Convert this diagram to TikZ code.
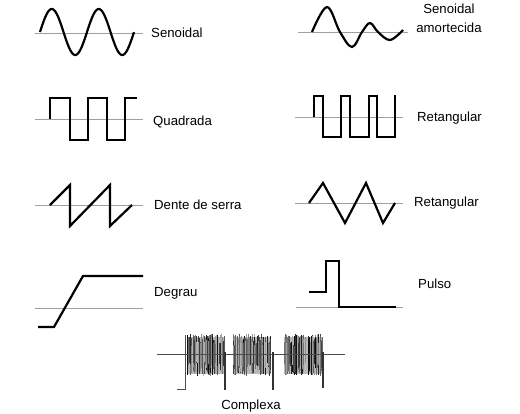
\documentclass[tikz,border=0pt]{standalone}
\usepackage{fontspec}
\setmainfont{Liberation Sans}
\begin{document}
\begin{tikzpicture}[x=1pt,y=-1pt,
  wave/.style={line width=2.2pt, line join=miter, black},
  axisline/.style={gray!75, line width=0.8pt},
  lbl/.style={font=\fontsize{13.2pt}{19pt}\selectfont, inner sep=0pt, anchor=west},
  burstline/.style={line width=0.6pt}]
\useasboundingbox[fill=white] (0,0) rectangle (520,413);

% Senoidal
\draw[axisline] (35,33) -- (143,33);
\draw[wave] plot[domain=0:2, samples=90] ({40+\x*47}, {32-23*sin(\x*360)});
\node[lbl] (senoidal) at (151,33) {Senoidal};

% Senoidal amortecida
\draw[axisline] (298,32) -- (408,32);
\draw[wave] plot[smooth, tension=0.6] coordinates {(312,32) (327,7) (340,32) (352,47) (362,32) (370,23) (378,32) (390,40) (403,30)};
\node[lbl, anchor=center, align=center] (amort) at (449,18) {Senoidal\\amortecida};

% Quadrada
\draw[axisline] (35,119) -- (143,119);
\draw[wave] (50,119) -- (50,98) -- (70,98) -- (70,140) -- (88,140) -- (88,98) -- (107,98) -- (107,140) -- (125,140) -- (125,98) -- (137,98);
\node[lbl] (quadrada) at (153,122) {Quadrada};

% Retangular
\draw[axisline] (295,117) -- (403,117);
\draw[wave] (314,117) -- (314,96) -- (323,96) -- (323,137) -- (341,137) -- (341,96) -- (350,96) -- (350,137) -- (369,137) -- (369,96) -- (377,96) -- (377,137) -- (395,137) -- (395,95);
\node[lbl] (retang1) at (417,118) {Retangular};

% Dente de serra
\draw[axisline] (35,205) -- (143,205);
\draw[wave] (50,205) -- (70,185) -- (70,226) -- (110,185) -- (110,226) -- (132,205);
\node[lbl] (dente) at (154,205) {Dente de serra};

% Triangular (labelled Retangular)
\draw[axisline] (295,203) -- (403,203);
\draw[wave] (309,203) -- (323,183) -- (345,223) -- (366,183) -- (383,223) -- (395,203);
\node[lbl] (retang2) at (414,203) {Retangular};

% Degrau
\draw[axisline] (35,308) -- (143,308);
\draw[wave] (38,327) -- (54,327) -- (83,276) -- (143,276);
\node[lbl] (degrau) at (154,293) {Degrau};

% Pulso
\draw[axisline] (296,307) -- (403,307);
\draw[wave] (309,292) -- (326,292) -- (326,261) -- (339,261) -- (339,307) -- (396,307);
\node[lbl] (pulso) at (418,284) {Pulso};

% Complexa
\pgfmathsetseed{11}
\foreach \bx in {187,233,284}{
  \fill[gray!55] (\bx,337) rectangle (\bx+38,374);
  \foreach \i in {0,...,110}{
    \pgfmathsetmacro\xx{\bx+38*rnd}
    \pgfmathsetmacro\ya{334+12*rnd}
    \pgfmathsetmacro\yb{362+14*rnd}
    \pgfmathsetmacro\g{30+65*rnd}
    \draw[burstline, black!\g] (\xx,\ya) -- (\xx,\yb);
  }
}
\draw[axisline, gray!60!black] (157,354) -- (345,354);
\draw[line width=0.9pt, gray!60!black] (177,389) -- (185,389) -- (185,335);
\draw[line width=1.2pt, black!80] (225,352) -- (225,390);
\draw[line width=1.2pt, black!80] (273,352) -- (273,390);
\draw[line width=1.2pt, black!80] (323,352) -- (323,388);
\node[lbl, anchor=center] (complexa) at (251,406) {Complexa};
\end{tikzpicture}
\end{document}
